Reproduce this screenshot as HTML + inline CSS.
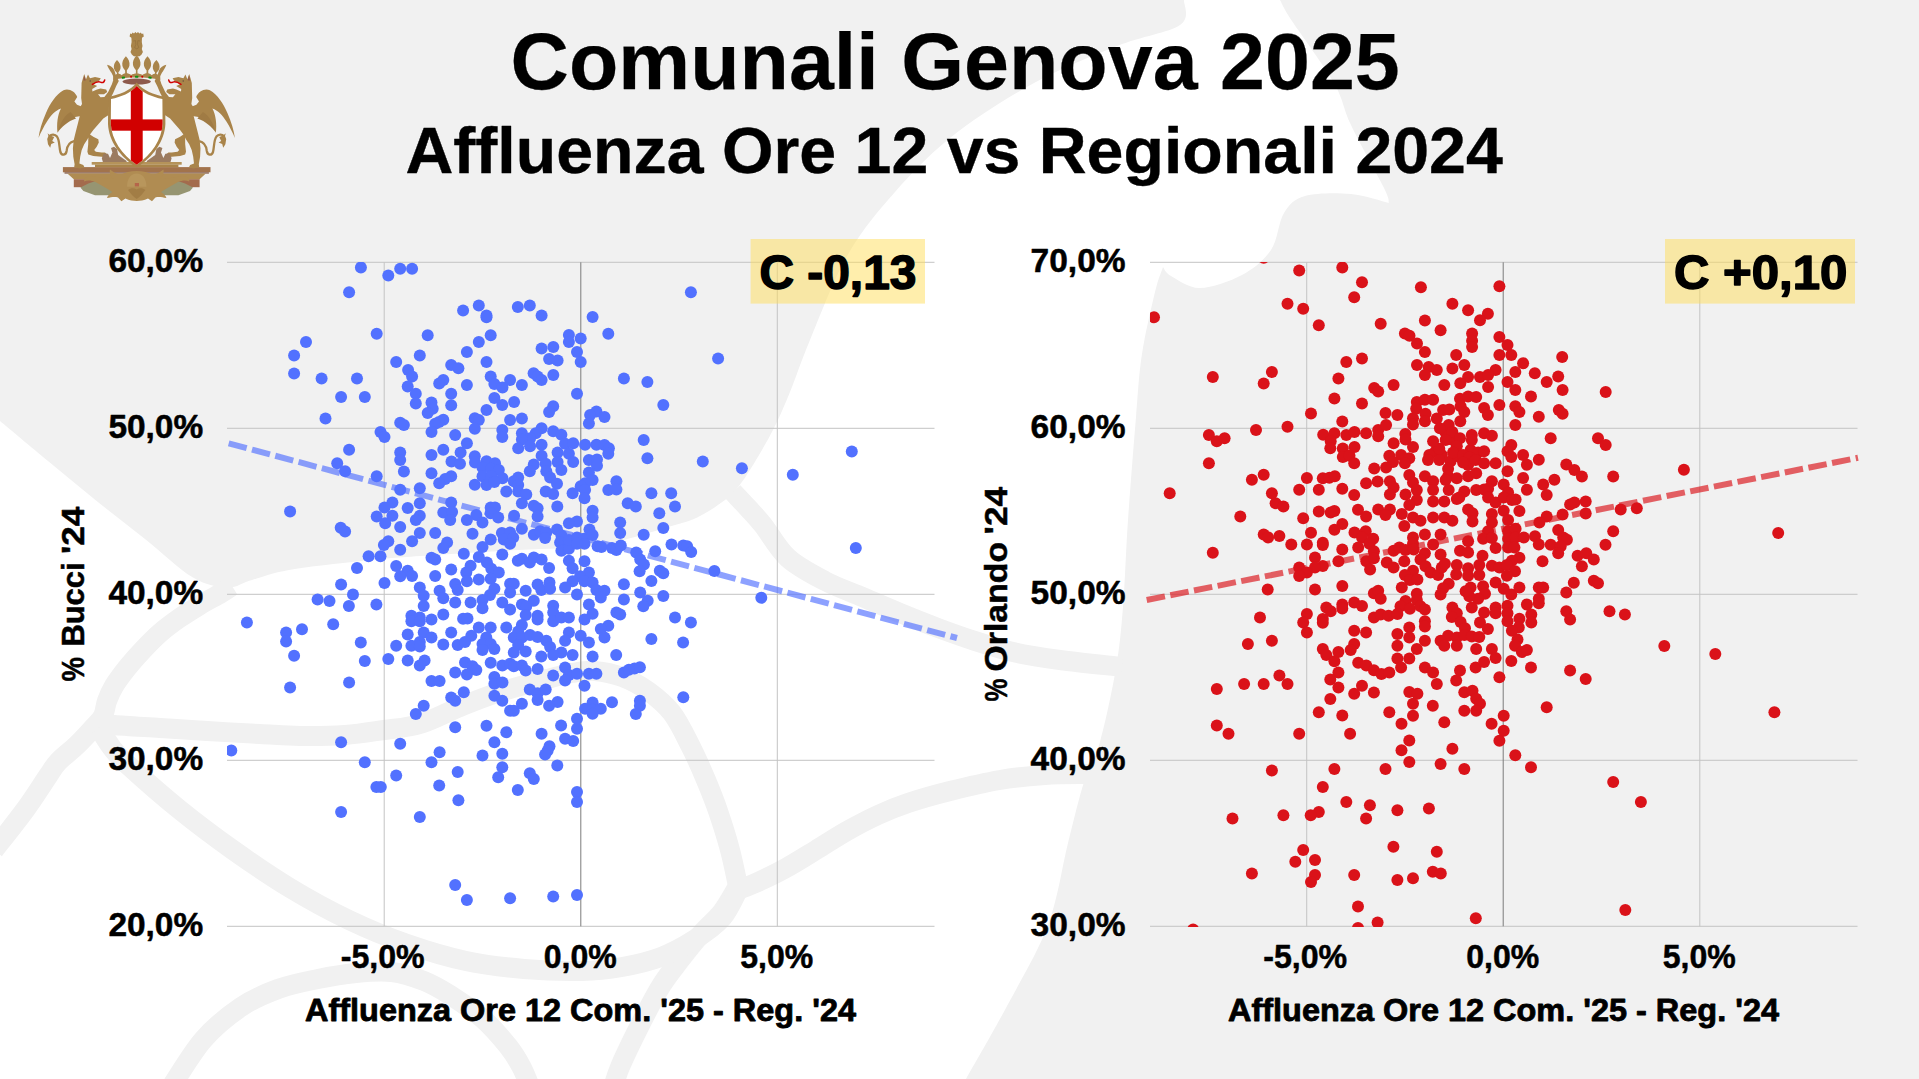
<!DOCTYPE html>
<html lang="it"><head><meta charset="utf-8"><title>Comunali Genova 2025 - Affluenza Ore 12 vs Regionali 2024</title>
<style>
html,body{margin:0;padding:0;background:#fff;overflow:hidden}
body{width:1919px;height:1079px;font-family:"Liberation Sans",sans-serif}
svg{display:block}
svg text{font-family:"Liberation Sans",sans-serif;font-weight:bold;fill:#000}
</style></head><body>
<svg width="1919" height="1079" viewBox="0 0 1919 1079">
<defs>
<clipPath id="clipL"><rect x="227" y="262" width="707.5" height="665"/></clipPath>
<clipPath id="clipR"><rect x="1150" y="262" width="707.5" height="665"/></clipPath>
</defs>

<rect width="1919" height="1079" fill="#ffffff"/>
<g fill="#f1f1f1" stroke="none">
<path d="M0,0 L1184,0 L1184.0,0.0 C1183.3,4.2 1191.2,17.3 1180.0,25.0 C1168.8,32.7 1141.3,36.3 1117.0,46.0 C1092.7,55.7 1061.8,67.7 1034.0,83.0 C1006.2,98.3 974.3,118.5 950.0,138.0 C925.7,157.5 905.3,180.0 888.0,200.0 C870.7,220.0 859.0,234.7 846.0,258.0 C833.0,281.3 819.3,317.7 810.0,340.0 C800.7,362.3 796.0,377.3 790.0,392.0 C784.0,406.7 779.7,416.7 774.0,428.0 C768.3,439.3 761.8,450.3 756.0,460.0 C750.2,469.7 744.2,479.3 739.0,486.0 C733.8,492.7 731.5,495.0 725.0,500.0 C718.5,505.0 708.3,511.8 700.0,516.0 C691.7,520.2 691.7,520.2 675.0,525.0 C658.3,529.8 626.2,540.8 600.0,545.0 C573.8,549.2 548.0,548.2 518.0,550.0 C488.0,551.8 446.2,554.2 420.0,556.0 C393.8,557.8 382.8,558.7 361.0,561.0 C339.2,563.3 307.2,566.8 289.0,570.0 C270.8,573.2 262.3,577.1 252.0,580.0 C241.7,582.9 236.8,587.9 227.0,587.5 C217.2,587.1 206.7,585.7 193.0,577.6 C179.3,569.5 161.2,551.9 145.0,539.0 C128.8,526.1 112.2,513.5 96.0,500.5 C79.8,487.5 64.0,474.2 48.0,461.0 C32.0,447.8 8.0,427.7 0.0,421.0 Z"/>
<path d="M1280.0,0.0 C1282.0,3.5 1283.0,7.2 1292.0,21.0 C1301.0,34.8 1324.2,65.7 1334.0,83.0 C1343.8,100.3 1342.7,107.5 1351.0,125.0 C1359.3,142.5 1377.7,175.0 1384.0,188.0 C1390.3,201.0 1388.2,200.5 1389.0,203.0 L1389.0,203.0 C1382.7,201.5 1365.0,195.2 1351.0,194.0 C1337.0,192.8 1316.2,192.8 1305.0,196.0 C1293.8,199.2 1289.7,204.0 1284.0,213.0 C1278.3,222.0 1278.0,239.7 1271.0,250.0 C1264.0,260.3 1253.8,268.7 1242.0,275.0 C1230.2,281.3 1211.8,287.8 1200.0,288.0 C1188.2,288.2 1177.2,279.5 1171.0,276.0 C1164.8,272.5 1164.3,268.5 1163.0,267.0 L1163.0,267.0 C1161.7,271.2 1158.5,277.5 1155.0,292.0 C1151.5,306.5 1145.2,333.2 1142.0,354.0 C1138.8,374.8 1138.3,389.3 1136.0,417.0 C1133.7,444.7 1130.2,488.3 1128.0,520.0 C1125.8,551.7 1125.0,582.3 1123.0,607.0 C1121.0,631.7 1119.8,645.5 1116.0,668.0 C1112.2,690.5 1105.3,723.0 1100.0,742.0 C1094.7,761.0 1089.3,765.2 1084.0,782.0 C1078.7,798.8 1074.0,819.2 1068.0,843.0 C1062.0,866.8 1058.2,897.8 1048.0,925.0 C1037.8,952.2 1020.7,980.3 1007.0,1006.0 C993.3,1031.7 972.8,1066.8 966.0,1079.0 L1919,1079 L1919,0 Z"/>
</g>
<g fill="none" stroke="#f1f1f1" stroke-width="20" stroke-linecap="butt" stroke-linejoin="round">
<path d="M232.0,586.0 C230.1,587.2 226.0,590.2 220.7,593.4 C215.4,596.6 206.9,600.8 200.0,605.0 C193.1,609.2 185.7,613.7 179.0,618.4 C172.3,623.1 166.2,627.6 160.0,633.0 C153.8,638.4 147.5,645.0 142.0,650.8 C136.5,656.6 131.7,662.1 127.0,668.0 C122.3,673.9 117.3,680.5 114.0,686.0 C110.7,691.5 108.8,696.0 107.0,701.0 C105.2,706.0 105.2,711.7 103.0,716.0 C100.8,720.3 98.3,722.2 94.0,727.0 C89.7,731.8 83.0,739.2 77.0,745.0 C71.0,750.8 62.8,756.8 58.0,762.0 C53.2,767.2 53.5,768.0 48.0,776.0 C42.5,784.0 34.0,797.7 25.0,810.0 C16.0,822.3 -0.8,843.3 -6.0,850.0"/>
<path d="M100.0,722.0 C102.3,722.5 104.0,724.0 114.0,725.0 C124.0,726.0 144.5,727.0 160.0,728.0 C175.5,729.0 190.3,730.0 207.0,731.0 C223.7,732.0 244.5,733.2 260.0,734.0 C275.5,734.8 285.8,735.8 300.0,736.0 C314.2,736.2 331.0,736.0 345.0,735.0 C359.0,734.0 371.5,731.8 384.0,730.0 C396.5,728.2 407.3,727.8 420.0,724.0 C432.7,720.2 447.2,712.2 460.0,707.0 C472.8,701.8 482.5,697.7 497.0,693.0 C511.5,688.3 534.5,682.3 547.0,679.0 C559.5,675.7 564.0,674.3 572.0,673.0 C580.0,671.7 586.7,670.3 595.0,671.0 C603.3,671.7 613.2,673.7 622.0,677.0 C630.8,680.3 639.7,685.0 648.0,691.0 C656.3,697.0 664.8,703.7 672.0,713.0 C679.2,722.3 685.3,735.8 691.0,747.0 C696.7,758.2 701.5,769.3 706.0,780.0 C710.5,790.7 714.0,799.3 718.0,811.0 C722.0,822.7 726.7,837.5 730.0,850.0 C733.3,862.5 736.7,880.0 738.0,886.0"/>
<path d="M738.0,886.0 C735.3,890.3 728.0,904.2 722.0,912.0 C716.0,919.8 709.0,925.0 702.0,933.0 C695.0,941.0 686.8,951.2 680.0,960.0 C673.2,968.8 667.7,975.2 661.0,986.0 C654.3,996.8 646.8,1011.5 640.0,1025.0 C633.2,1038.5 624.7,1055.8 620.0,1067.0 C615.3,1078.2 613.3,1087.8 612.0,1092.0"/>
<path d="M99.0,728.0 C101.2,731.3 107.2,741.8 112.0,748.0 C116.8,754.2 116.7,754.7 128.0,765.0 C139.3,775.3 162.5,795.8 180.0,810.0 C197.5,824.2 214.7,837.0 233.0,850.0 C251.3,863.0 270.7,876.3 290.0,888.0 C309.3,899.7 329.5,910.7 349.0,920.0 C368.5,929.3 387.5,937.2 407.0,944.0 C426.5,950.8 446.5,956.8 466.0,961.0 C485.5,965.2 504.7,967.3 524.0,969.0 C543.3,970.7 565.7,971.3 582.0,971.0 C598.3,970.7 608.8,969.3 622.0,967.0 C635.2,964.7 649.0,961.5 661.0,957.0 C673.0,952.5 683.8,946.5 694.0,940.0 C704.2,933.5 714.7,926.3 722.0,918.0 C729.3,909.7 735.3,894.7 738.0,890.0"/>
<path d="M738.0,890.0 C741.7,888.5 752.0,884.7 760.0,881.0 C768.0,877.3 776.7,873.2 786.0,868.0 C795.3,862.8 805.8,856.2 816.0,850.0 C826.2,843.8 836.7,836.8 847.0,831.0 C857.3,825.2 867.8,819.7 878.0,815.0 C888.2,810.3 896.0,807.0 908.0,803.0 C920.0,799.0 934.7,794.8 950.0,791.0 C965.3,787.2 984.2,782.7 1000.0,780.0 C1015.8,777.3 1029.7,776.0 1045.0,775.0 C1060.3,774.0 1084.2,774.2 1092.0,774.0"/>
<path d="M733.0,492.0 C735.5,494.7 743.0,502.5 748.0,508.0 C753.0,513.5 756.3,516.7 763.0,525.0 C769.7,533.3 777.7,548.7 788.0,558.0 C798.3,567.3 813.0,574.7 825.0,581.0 C837.0,587.3 847.5,590.7 860.0,596.0 C872.5,601.3 887.0,607.7 900.0,613.0 C913.0,618.3 925.5,623.3 938.0,628.0 C950.5,632.7 962.5,637.0 975.0,641.0 C987.5,645.0 998.8,648.8 1013.0,652.0 C1027.2,655.2 1041.8,657.5 1060.0,660.0 C1078.2,662.5 1111.7,665.8 1122.0,667.0"/>
<path d="M168.0,1092.0 C173.8,1083.3 190.8,1054.2 203.0,1040.0 C215.2,1025.8 228.5,1015.5 241.0,1007.0 C253.5,998.5 265.2,993.7 278.0,989.0 C290.8,984.3 305.0,981.7 318.0,979.0 C331.0,976.3 343.7,974.2 356.0,973.0 C368.3,971.8 380.7,970.7 392.0,972.0 C403.3,973.3 414.3,977.2 424.0,981.0 C433.7,984.8 440.3,988.8 450.0,995.0 C459.7,1001.2 472.3,1009.5 482.0,1018.0 C491.7,1026.5 501.3,1037.7 508.0,1046.0 C514.7,1054.3 518.0,1060.3 522.0,1068.0 C526.0,1075.7 530.3,1088.0 532.0,1092.0"/>
</g>
<g id="crest">
<defs>
<g id="griffin">
<!-- wing feathers -->
<path d="M77.2,97 C75,91 68.5,88 63.5,90.2 C56,94.5 50,103.5 46,113 C42,122 39.3,131 38.5,138 C41,132 43.8,126.5 47,121.5 C51,115 55.5,110.5 61,108.5 C57.5,115 56.5,124 57.5,132.8 C60.5,126 65.5,120.5 72,117.5 L81,116 L81.5,106.5 L77,104.8 L74.4,101.6 Z" fill="#a9844a"/>
<path d="M70.5,112 C64.5,115.5 60,123 57.6,132.6 C62,126.5 67.5,121.5 76,118.5 Z" fill="#a07b44"/>
<!-- body -->
<path d="M84.2,74 L86,79.2 L88,74.4 L90,78.2 L95,77 L100.8,78.2 L99.4,80.6 L93.4,84.2 L97.2,86 L92.2,89 L92.4,91.5 L97,89.6 L100.5,88.4 L106.2,89.5 L107.2,92 L104,94.2 L98,94.2 L100.5,97.2 L104.4,97 L108.2,92 L112,84 L113.6,79 L117,77.6 L118.8,81 L116.2,86 L113.2,93 L109.6,100 L108.8,108 L108.6,115 L103.3,118.5 L99.2,123.3 L93.3,130 L90,134.6 L93.3,136.7 L98.3,139.2 L98.8,142.5 L96.7,146.7 L94.2,150 L95.8,151.7 L101.7,152.4 L105,152.4 L107.9,155 L106.7,157.6 L101.7,156.8 L93.3,156 L88.3,154.4 L87.4,151.7 L88.2,144.2 L88.3,137.5 L87.5,139.2 L84.2,144.2 L81.7,150 L80.2,156.7 L79.4,163.6 L83.3,165 L84.4,167.2 L80,168.4 L74.2,167.3 L74.6,164.2 L73.3,156.7 L72.9,148.3 L73.75,140 L75.4,133.3 L77.5,125 L80,115 L78.5,110 L82,104 L81.2,98 L81.4,91 L81.6,83 L83,78 Z" fill="#a9844a"/>
<!-- tail -->
<path d="M74.2,141.2 C70,142 67.2,146 66.6,151 C66,155.2 61.8,156 60.4,152 C59,146 59.6,140 57,136.6 C55,134.2 51.5,134.2 49.4,136" fill="none" stroke="#a9844a" stroke-width="2.3"/>
<path d="M47.6,133.2 L50.2,135.6 L54.2,137 L52.2,141 L54.8,142.6 L51.2,144 L50.2,147.8 L48,144.2 L47.2,139 L48.4,136 Z" fill="#a9844a"/>
<!-- ear inner -->
<path d="M84.4,75.2 L85.6,80.4 L83.4,80.6 Z" fill="#94584a"/>
<!-- tongue -->
<path d="M92.4,84.4 C95,82.6 98,81.3 100.4,82.1 C102.4,83 104,82.8 104.7,80" fill="none" stroke="#d10000" stroke-width="1.5" stroke-linecap="round"/>
<circle cx="90.2" cy="81" r="0.7" fill="#5a4a3a"/>
<!-- scroll next to shield -->
<path d="M101.8,158.2 L103.8,153.4 L108,153.8 L110,158 L112.4,152.4 L111,148 L114,146.8 L117,149 L118.2,155 L126.6,161 L126.6,162.6 L103,162.6 Z" fill="#9b7b60"/>
<!-- green-gray figure under platform -->
<path d="M80.4,187.6 L88.3,183.4 L100.8,179.2 L110,186.7 L118.4,191.8 L111.8,195.2 L95,195.2 L83.4,190.9 Z" fill="#969572"/>
</g>
</defs>
<!-- base -->
<rect x="62.9" y="167.1" width="147.6" height="5.2" fill="#a2734c"/>
<rect x="64.5" y="172.2" width="144.4" height="1.5" fill="#8f6a58"/>
<path d="M67.4,173.6 L205.8,173.6 L199.6,179.3 L73.8,179.3 Z" fill="#b08c52"/>
<rect x="73.8" y="179.2" width="125.8" height="8" fill="#a36b4d"/>
<use href="#griffin"/>
<use href="#griffin" transform="translate(273.4,0) scale(-1,1)"/>
<!-- plinth -->
<rect x="91.7" y="162" width="90" height="2.7" fill="#b5935a"/>
<rect x="95" y="164.6" width="83.4" height="2.6" fill="#a9844a"/>
<!-- central ornament -->
<path d="M110,169.4 C113,172 117,174 121,175 C125,172 130,171 136.7,171 C143.4,171 148.4,172 152.4,175 C156.4,174 160.4,172 163.4,169.4 C164.4,173 162.4,177 159.4,179 C166,179 173,178 180,176.6 C186,175.6 190,177.6 189.2,181.4 C186,180 182,180.4 178,182 C172,185 166,189 161,192 C164,194 166,196 166.4,198 C162,197 158.4,196.4 155.4,197.4 L152,201.2 L148,198.6 C144,200.4 140,201 136.7,201 C133.4,201 129.4,200.4 125.4,198.6 L121.4,201.2 L118,197.4 C115,196.4 111.4,197 107,198 C107.4,196 109.4,194 112.4,192 C107.4,189 101.4,185 95.4,182 C91.4,180.4 87.4,180 84.2,181.4 C83.4,177.6 87.4,175.6 93.4,176.6 C100.4,178 107.4,179 114,179 C111,177 109,173 110,169.4 Z" fill="#b08c52"/>
<path d="M127,186.8 C127,178.8 131,173.6 136.7,173.6 C142.4,173.6 146.4,178.8 146.4,186.8 Z" fill="#b8965c"/>
<rect x="134.8" y="183" width="4.2" height="3.4" fill="#b5654a"/>
<path d="M128,190 C131,187.6 134,187.6 136.7,189.6 C139.4,187.6 142.4,187.6 145.4,190 C142.4,194 140,197 136.7,199 C133.4,197 131,194 128,190 Z" fill="#a27d45"/>
<!-- janus head -->
<path d="M129.6,36.6 L130.2,33.4 L131.6,34 L132.6,32.4 L134,33.6 L135.4,32 L136.7,33.2 L138,32 L139.4,33.6 L140.8,32.4 L141.8,34 L143.2,33.4 L143.8,36.6 L142,37.8 L141.8,42 L142.5,46 L141.8,49 L142.9,52 L141.6,54.6 L139.6,56.2 L136.7,56.6 L133.8,56.2 L131.8,54.6 L130.5,52 L131.6,49 L130.9,46 L131.6,42 L131.4,37.8 Z" fill="#a9844a"/>
<path d="M133.4,41 L135.6,40.6 L135.8,44.6 L134.6,47.6 L136.7,48.8 L138.8,47.6 L137.6,44.6 L137.8,40.6 L140,41" fill="none" stroke="#92703c" stroke-width="0.7"/>
<!-- crown leaves -->
<g fill="#a9844a">
<path d="M136.7,55.5 C139.6,58 141,61.5 140.4,65 C139.8,67.4 138.4,69 137.5,70 L137.5,74 L135.9,74 L135.9,70 C135,69 133.6,67.4 133,65 C132.4,61.5 133.8,58 136.7,55.5 Z"/>
<path id="lf1" d="M125.9,56.3 C128.8,59 130,62.4 129.4,65.8 C128.8,68 127.6,69.4 126.8,70.4 L127,74.5 L125.2,74.5 L125.1,70.4 C124.2,69.4 122.9,68 122.4,65.8 C121.8,62.4 123,59 125.9,56.3 Z"/>
<path id="lf2" d="M117,60 C119.8,62.4 121,65.4 120.5,68.4 C120,70.4 119,71.6 118.3,72.4 L119.3,76 L117.6,76 L116.7,72.6 C115.8,71.8 114.6,70.6 114,68.6 C113.4,65.6 114.4,62.4 117,60 Z"/>
<path id="lf3" d="M107.1,64.8 C110.4,65.4 113,67.4 114.4,70.4 C115.2,72.4 115.6,74.4 115.8,76.2 L113.6,77.4 C113,75.4 112,73.4 110.4,71.2 C109,69.2 107.8,67 107.1,64.8 Z"/>
<use href="#lf1" transform="translate(273.4,0) scale(-1,1)"/>
<use href="#lf2" transform="translate(273.4,0) scale(-1,1)"/>
<use href="#lf3" transform="translate(273.4,0) scale(-1,1)"/>
<!-- arches + band -->
<path d="M113.2,76.6 C116,73.4 119,73 121.8,75.2 C124,72.6 128,72.6 131.2,75 C133.4,73 140,73 142.2,75 C145.4,72.6 149.4,72.6 151.6,75.2 C154.4,73 157.4,73.4 160.2,76.6 L160.4,80 C153,78.2 145,77.6 136.7,77.6 C128.4,77.6 120.4,78.2 113,80 Z"/>
</g>
<ellipse cx="136.7" cy="81.6" rx="14.2" ry="3" fill="#8e5a4c"/>
<g>
<rect x="121.8" y="76.6" width="3.2" height="2" rx="0.6" fill="#0f8f12" transform="rotate(-8 123.4 77.6)"/>
<rect x="135" y="75.7" width="3.4" height="2" rx="0.6" fill="#0f8f12"/>
<rect x="148.4" y="76.6" width="3.2" height="2" rx="0.6" fill="#0f8f12" transform="rotate(8 150 77.6)"/>
<circle cx="131.1" cy="76.8" r="1.05" fill="#d10000"/>
<circle cx="142.3" cy="76.8" r="1.05" fill="#d10000"/>
</g>
<!-- shield -->
<path d="M108.2,96.7 C120,94.6 130,90.6 136.7,82.4 C143.4,90.6 153.4,94.6 165.2,96.7 L165.4,124 C164.6,141 153.4,157 136.7,167.4 C120,157 108.8,141 108,124 Z" fill="#a9844a"/>
<clipPath id="shc"><path d="M111,99 C121.4,97 130.4,93 136.7,86 C143,93 152,97 162.4,99 L162.6,124 C161.8,139.6 151.6,154.6 136.7,164.8 C121.8,154.6 111.6,139.6 110.8,124 Z"/></clipPath>
<g clip-path="url(#shc)">
<rect x="105" y="80" width="64" height="90" fill="#ffffff"/>
<rect x="130.8" y="80" width="11.9" height="90" fill="#d10000"/>
<rect x="105" y="119.4" width="64" height="11.3" fill="#d10000"/>
</g>
</g>

<text x="510.6" y="88.8" font-size="79" text-anchor="start" textLength="889.2" lengthAdjust="spacingAndGlyphs" stroke="#000" stroke-width="0.25" stroke-linejoin="round" >Comunali Genova 2025</text>
<text x="405.4" y="172.5" font-size="65.2" text-anchor="start" textLength="1097.4" lengthAdjust="spacingAndGlyphs" stroke="#000" stroke-width="0.4" stroke-linejoin="round" >Affluenza Ore 12 vs Regionali 2024</text>
<g id="chartL">
<rect x="227" y="261.80" width="707.5" height="1" fill="#c4c4c4"/>
<rect x="227" y="427.80" width="707.5" height="1" fill="#c4c4c4"/>
<rect x="227" y="593.80" width="707.5" height="1" fill="#c4c4c4"/>
<rect x="227" y="759.80" width="707.5" height="1" fill="#c4c4c4"/>
<rect x="227" y="925.80" width="707.5" height="1" fill="#c4c4c4"/>
<rect x="383.70" y="262.3" width="1" height="664.0" fill="#c4c4c4"/>
<rect x="580.30" y="262.3" width="1" height="664.0" fill="#7c7c7c"/>
<rect x="776.80" y="262.3" width="1" height="664.0" fill="#c4c4c4"/>
</g>
<g id="chartR">
<rect x="1150" y="261.80" width="707.5" height="1" fill="#c4c4c4"/>
<rect x="1150" y="427.80" width="707.5" height="1" fill="#c4c4c4"/>
<rect x="1150" y="593.80" width="707.5" height="1" fill="#c4c4c4"/>
<rect x="1150" y="759.80" width="707.5" height="1" fill="#c4c4c4"/>
<rect x="1150" y="925.80" width="707.5" height="1" fill="#c4c4c4"/>
<rect x="1306.20" y="262.3" width="1" height="664.0" fill="#c4c4c4"/>
<rect x="1502.70" y="262.3" width="1" height="664.0" fill="#7c7c7c"/>
<rect x="1699.30" y="262.3" width="1" height="664.0" fill="#c4c4c4"/>
</g>
<text x="108.4" y="272.2" font-size="32.3" text-anchor="start" textLength="94.8" lengthAdjust="spacingAndGlyphs" stroke="#000" stroke-width="0.5" stroke-linejoin="round" >60,0%</text>
<text x="108.4" y="438.2" font-size="32.3" text-anchor="start" textLength="94.8" lengthAdjust="spacingAndGlyphs" stroke="#000" stroke-width="0.5" stroke-linejoin="round" >50,0%</text>
<text x="108.4" y="604.1999999999999" font-size="32.3" text-anchor="start" textLength="94.8" lengthAdjust="spacingAndGlyphs" stroke="#000" stroke-width="0.5" stroke-linejoin="round" >40,0%</text>
<text x="108.4" y="770.1999999999999" font-size="32.3" text-anchor="start" textLength="94.8" lengthAdjust="spacingAndGlyphs" stroke="#000" stroke-width="0.5" stroke-linejoin="round" >30,0%</text>
<text x="108.4" y="936.1999999999999" font-size="32.3" text-anchor="start" textLength="94.8" lengthAdjust="spacingAndGlyphs" stroke="#000" stroke-width="0.5" stroke-linejoin="round" >20,0%</text>
<text x="1030.6" y="272.2" font-size="32.3" text-anchor="start" textLength="95" lengthAdjust="spacingAndGlyphs" stroke="#000" stroke-width="0.5" stroke-linejoin="round" >70,0%</text>
<text x="1030.6" y="438.2" font-size="32.3" text-anchor="start" textLength="95" lengthAdjust="spacingAndGlyphs" stroke="#000" stroke-width="0.5" stroke-linejoin="round" >60,0%</text>
<text x="1030.6" y="604.1999999999999" font-size="32.3" text-anchor="start" textLength="95" lengthAdjust="spacingAndGlyphs" stroke="#000" stroke-width="0.5" stroke-linejoin="round" >50,0%</text>
<text x="1030.6" y="770.1999999999999" font-size="32.3" text-anchor="start" textLength="95" lengthAdjust="spacingAndGlyphs" stroke="#000" stroke-width="0.5" stroke-linejoin="round" >40,0%</text>
<text x="1030.6" y="936.1999999999999" font-size="32.3" text-anchor="start" textLength="95" lengthAdjust="spacingAndGlyphs" stroke="#000" stroke-width="0.5" stroke-linejoin="round" >30,0%</text>
<text x="382.7" y="968.0" font-size="32.3" text-anchor="middle" textLength="84" lengthAdjust="spacingAndGlyphs" stroke="#000" stroke-width="0.5" stroke-linejoin="round" >-5,0%</text>
<text x="580.3" y="968.0" font-size="32.3" text-anchor="middle" textLength="73" lengthAdjust="spacingAndGlyphs" stroke="#000" stroke-width="0.5" stroke-linejoin="round" >0,0%</text>
<text x="776.8" y="968.0" font-size="32.3" text-anchor="middle" textLength="73" lengthAdjust="spacingAndGlyphs" stroke="#000" stroke-width="0.5" stroke-linejoin="round" >5,0%</text>
<text x="1305.2" y="968.0" font-size="32.3" text-anchor="middle" textLength="84" lengthAdjust="spacingAndGlyphs" stroke="#000" stroke-width="0.5" stroke-linejoin="round" >-5,0%</text>
<text x="1502.7" y="968.0" font-size="32.3" text-anchor="middle" textLength="73" lengthAdjust="spacingAndGlyphs" stroke="#000" stroke-width="0.5" stroke-linejoin="round" >0,0%</text>
<text x="1699.3" y="968.0" font-size="32.3" text-anchor="middle" textLength="73" lengthAdjust="spacingAndGlyphs" stroke="#000" stroke-width="0.5" stroke-linejoin="round" >5,0%</text>
<text x="305" y="1020.6" font-size="30.5" text-anchor="start" textLength="551" lengthAdjust="spacingAndGlyphs" stroke="#000" stroke-width="0.8" stroke-linejoin="round" >Affluenza Ore 12 Com. &#39;25 - Reg. &#39;24</text>
<text x="1228" y="1020.6" font-size="30.5" text-anchor="start" textLength="551" lengthAdjust="spacingAndGlyphs" stroke="#000" stroke-width="0.8" stroke-linejoin="round" >Affluenza Ore 12 Com. &#39;25 - Reg. &#39;24</text>
<g transform="translate(83.6,681.4) rotate(-90)"><text x="0" y="0" font-size="31" text-anchor="start" textLength="24.6" lengthAdjust="spacingAndGlyphs" stroke="#000" stroke-width="0.5" stroke-linejoin="round" >%</text></g><g transform="translate(83.6,646.6) rotate(-90)"><text x="0" y="0" font-size="31" text-anchor="start" textLength="84.2" lengthAdjust="spacingAndGlyphs" stroke="#000" stroke-width="0.5" stroke-linejoin="round" >Bucci</text></g><g transform="translate(83.6,554.0) rotate(-90)"><text x="0" y="0" font-size="31" text-anchor="start" textLength="47.4" lengthAdjust="spacingAndGlyphs" stroke="#000" stroke-width="0.5" stroke-linejoin="round" >&#39;24</text></g>
<g transform="translate(1006.6,701.6) rotate(-90)"><text x="0" y="0" font-size="31" text-anchor="start" textLength="23.0" lengthAdjust="spacingAndGlyphs" stroke="#000" stroke-width="0.5" stroke-linejoin="round" >%</text></g><g transform="translate(1006.6,671.4) rotate(-90)"><text x="0" y="0" font-size="31" text-anchor="start" textLength="129.4" lengthAdjust="spacingAndGlyphs" stroke="#000" stroke-width="0.5" stroke-linejoin="round" >Orlando</text></g><g transform="translate(1006.6,534.4) rotate(-90)"><text x="0" y="0" font-size="31" text-anchor="start" textLength="47.6" lengthAdjust="spacingAndGlyphs" stroke="#000" stroke-width="0.5" stroke-linejoin="round" >&#39;24</text></g>
<line x1="228.7" y1="443.3" x2="957" y2="638" stroke="#5271ff" stroke-opacity="0.66" stroke-width="6" stroke-dasharray="18.6 5.5"/>
<line x1="1146.7" y1="600" x2="1858" y2="457.8" stroke="#da1219" stroke-opacity="0.66" stroke-width="6" stroke-dasharray="18.6 5.5"/>
<g clip-path="url(#clipL)" fill="#5271ff">
<circle cx="360.9" cy="267.5" r="6"/><circle cx="388.3" cy="275.6" r="6"/><circle cx="400.2" cy="268.8" r="6"/><circle cx="412.1" cy="268.8" r="6"/><circle cx="349.1" cy="292.2" r="6"/><circle cx="376.7" cy="333.8" r="6"/><circle cx="427.7" cy="335.3" r="6"/><circle cx="306.0" cy="342.0" r="6"/><circle cx="294.1" cy="355.4" r="6"/><circle cx="419.8" cy="355.4" r="6"/><circle cx="396.2" cy="362.0" r="6"/><circle cx="451.2" cy="365.1" r="6"/><circle cx="458.4" cy="368.2" r="6"/><circle cx="408.1" cy="369.9" r="6"/><circle cx="294.1" cy="373.6" r="6"/><circle cx="412.1" cy="376.6" r="6"/><circle cx="321.6" cy="378.6" r="6"/><circle cx="357.0" cy="378.6" r="6"/><circle cx="443.3" cy="380.1" r="6"/><circle cx="439.2" cy="383.6" r="6"/><circle cx="407.7" cy="386.4" r="6"/><circle cx="690.9" cy="292.2" r="6"/><circle cx="478.8" cy="305.4" r="6"/><circle cx="463.1" cy="310.4" r="6"/><circle cx="517.8" cy="306.9" r="6"/><circle cx="529.8" cy="305.4" r="6"/><circle cx="486.5" cy="315.4" r="6"/><circle cx="486.5" cy="317.2" r="6"/><circle cx="541.6" cy="315.4" r="6"/><circle cx="592.6" cy="317.1" r="6"/><circle cx="490.7" cy="335.3" r="6"/><circle cx="568.9" cy="335.1" r="6"/><circle cx="608.3" cy="333.8" r="6"/><circle cx="580.7" cy="338.6" r="6"/><circle cx="478.8" cy="342.0" r="6"/><circle cx="568.9" cy="342.0" r="6"/><circle cx="541.6" cy="348.6" r="6"/><circle cx="553.3" cy="347.0" r="6"/><circle cx="466.9" cy="352.0" r="6"/><circle cx="577.0" cy="352.0" r="6"/><circle cx="549.1" cy="358.9" r="6"/><circle cx="557.6" cy="360.4" r="6"/><circle cx="486.5" cy="362.0" r="6"/><circle cx="580.7" cy="362.0" r="6"/><circle cx="490.7" cy="376.6" r="6"/><circle cx="533.6" cy="373.2" r="6"/><circle cx="537.6" cy="376.6" r="6"/><circle cx="541.6" cy="380.1" r="6"/><circle cx="553.3" cy="375.1" r="6"/><circle cx="510.1" cy="380.1" r="6"/><circle cx="623.9" cy="378.6" r="6"/><circle cx="647.4" cy="382.0" r="6"/><circle cx="466.9" cy="385.1" r="6"/><circle cx="494.4" cy="383.9" r="6"/><circle cx="502.5" cy="387.6" r="6"/><circle cx="521.9" cy="385.1" r="6"/><circle cx="718.1" cy="358.6" r="6"/><circle cx="341.1" cy="396.9" r="6"/><circle cx="364.8" cy="396.9" r="6"/><circle cx="415.8" cy="393.8" r="6"/><circle cx="451.2" cy="393.8" r="6"/><circle cx="415.8" cy="403.5" r="6"/><circle cx="431.5" cy="402.5" r="6"/><circle cx="451.2" cy="405.3" r="6"/><circle cx="432.7" cy="408.8" r="6"/><circle cx="427.7" cy="413.1" r="6"/><circle cx="325.5" cy="418.4" r="6"/><circle cx="443.3" cy="419.8" r="6"/><circle cx="439.0" cy="421.9" r="6"/><circle cx="435.2" cy="423.8" r="6"/><circle cx="400.2" cy="422.8" r="6"/><circle cx="403.9" cy="425.0" r="6"/><circle cx="380.5" cy="431.9" r="6"/><circle cx="384.5" cy="436.9" r="6"/><circle cx="431.5" cy="431.9" r="6"/><circle cx="455.2" cy="435.0" r="6"/><circle cx="349.1" cy="449.8" r="6"/><circle cx="400.2" cy="452.6" r="6"/><circle cx="400.2" cy="460.1" r="6"/><circle cx="443.3" cy="449.8" r="6"/><circle cx="431.5" cy="455.1" r="6"/><circle cx="451.5" cy="461.6" r="6"/><circle cx="337.2" cy="463.2" r="6"/><circle cx="345.1" cy="471.3" r="6"/><circle cx="403.9" cy="471.6" r="6"/><circle cx="431.5" cy="473.2" r="6"/><circle cx="376.7" cy="476.3" r="6"/><circle cx="451.2" cy="476.3" r="6"/><circle cx="445.2" cy="479.1" r="6"/><circle cx="439.2" cy="483.2" r="6"/><circle cx="400.2" cy="489.8" r="6"/><circle cx="419.8" cy="488.2" r="6"/><circle cx="392.4" cy="502.6" r="6"/><circle cx="419.8" cy="503.2" r="6"/><circle cx="451.2" cy="502.6" r="6"/><circle cx="384.5" cy="507.6" r="6"/><circle cx="407.7" cy="507.9" r="6"/><circle cx="290.1" cy="511.4" r="6"/><circle cx="443.3" cy="512.6" r="6"/><circle cx="452.1" cy="512.0" r="6"/><circle cx="376.7" cy="516.4" r="6"/><circle cx="392.4" cy="515.8" r="6"/><circle cx="419.8" cy="515.8" r="6"/><circle cx="415.8" cy="520.1" r="6"/><circle cx="450.2" cy="520.1" r="6"/><circle cx="385.2" cy="523.3" r="6"/><circle cx="577.0" cy="393.8" r="6"/><circle cx="494.4" cy="398.1" r="6"/><circle cx="502.3" cy="405.0" r="6"/><circle cx="514.1" cy="401.9" r="6"/><circle cx="663.3" cy="405.0" r="6"/><circle cx="486.5" cy="410.0" r="6"/><circle cx="553.2" cy="406.3" r="6"/><circle cx="549.1" cy="411.9" r="6"/><circle cx="596.4" cy="411.5" r="6"/><circle cx="590.1" cy="415.0" r="6"/><circle cx="604.5" cy="416.9" r="6"/><circle cx="588.9" cy="423.5" r="6"/><circle cx="474.8" cy="418.2" r="6"/><circle cx="478.8" cy="420.0" r="6"/><circle cx="510.1" cy="420.0" r="6"/><circle cx="521.9" cy="418.5" r="6"/><circle cx="474.8" cy="428.8" r="6"/><circle cx="502.3" cy="430.0" r="6"/><circle cx="502.3" cy="436.9" r="6"/><circle cx="541.6" cy="428.2" r="6"/><circle cx="535.7" cy="433.2" r="6"/><circle cx="521.9" cy="433.2" r="6"/><circle cx="530.1" cy="438.2" r="6"/><circle cx="521.9" cy="439.4" r="6"/><circle cx="553.2" cy="431.3" r="6"/><circle cx="561.4" cy="434.8" r="6"/><circle cx="466.9" cy="443.2" r="6"/><circle cx="541.6" cy="444.8" r="6"/><circle cx="518.2" cy="448.2" r="6"/><circle cx="530.1" cy="446.3" r="6"/><circle cx="565.1" cy="443.8" r="6"/><circle cx="573.2" cy="443.2" r="6"/><circle cx="585.1" cy="444.8" r="6"/><circle cx="596.4" cy="444.8" r="6"/><circle cx="604.5" cy="445.1" r="6"/><circle cx="608.9" cy="448.2" r="6"/><circle cx="608.3" cy="453.8" r="6"/><circle cx="643.7" cy="440.1" r="6"/><circle cx="460.6" cy="452.6" r="6"/><circle cx="474.8" cy="456.3" r="6"/><circle cx="557.6" cy="452.6" r="6"/><circle cx="568.9" cy="453.8" r="6"/><circle cx="541.6" cy="455.7" r="6"/><circle cx="647.4" cy="458.2" r="6"/><circle cx="588.9" cy="460.1" r="6"/><circle cx="597.0" cy="459.4" r="6"/><circle cx="460.0" cy="463.8" r="6"/><circle cx="573.2" cy="461.9" r="6"/><circle cx="557.6" cy="461.9" r="6"/><circle cx="533.8" cy="464.4" r="6"/><circle cx="597.0" cy="465.7" r="6"/><circle cx="545.7" cy="463.8" r="6"/><circle cx="475.0" cy="462.6" r="6"/><circle cx="486.5" cy="461.3" r="6"/><circle cx="495.0" cy="463.2" r="6"/><circle cx="482.5" cy="467.6" r="6"/><circle cx="491.3" cy="468.8" r="6"/><circle cx="498.8" cy="470.1" r="6"/><circle cx="482.5" cy="476.3" r="6"/><circle cx="491.3" cy="476.3" r="6"/><circle cx="502.5" cy="478.2" r="6"/><circle cx="486.5" cy="485.1" r="6"/><circle cx="494.4" cy="482.0" r="6"/><circle cx="474.8" cy="484.8" r="6"/><circle cx="529.8" cy="471.3" r="6"/><circle cx="546.3" cy="471.3" r="6"/><circle cx="550.1" cy="477.6" r="6"/><circle cx="557.0" cy="483.8" r="6"/><circle cx="561.4" cy="470.1" r="6"/><circle cx="588.9" cy="472.6" r="6"/><circle cx="518.2" cy="477.6" r="6"/><circle cx="513.8" cy="481.3" r="6"/><circle cx="518.2" cy="485.1" r="6"/><circle cx="592.6" cy="480.1" r="6"/><circle cx="616.4" cy="481.3" r="6"/><circle cx="585.1" cy="483.2" r="6"/><circle cx="580.7" cy="486.3" r="6"/><circle cx="608.3" cy="490.1" r="6"/><circle cx="616.4" cy="489.5" r="6"/><circle cx="506.3" cy="491.4" r="6"/><circle cx="518.2" cy="491.4" r="6"/><circle cx="526.3" cy="494.5" r="6"/><circle cx="545.7" cy="491.4" r="6"/><circle cx="553.2" cy="493.9" r="6"/><circle cx="572.6" cy="493.2" r="6"/><circle cx="585.1" cy="490.1" r="6"/><circle cx="584.5" cy="498.2" r="6"/><circle cx="651.4" cy="493.2" r="6"/><circle cx="671.2" cy="493.2" r="6"/><circle cx="521.9" cy="503.2" r="6"/><circle cx="533.8" cy="505.7" r="6"/><circle cx="537.6" cy="508.2" r="6"/><circle cx="557.3" cy="506.4" r="6"/><circle cx="627.7" cy="503.2" r="6"/><circle cx="635.8" cy="506.4" r="6"/><circle cx="675.0" cy="506.4" r="6"/><circle cx="490.7" cy="507.6" r="6"/><circle cx="495.0" cy="507.6" r="6"/><circle cx="592.6" cy="510.7" r="6"/><circle cx="659.3" cy="513.2" r="6"/><circle cx="490.7" cy="513.2" r="6"/><circle cx="498.2" cy="517.6" r="6"/><circle cx="514.1" cy="515.8" r="6"/><circle cx="537.6" cy="516.4" r="6"/><circle cx="592.6" cy="517.6" r="6"/><circle cx="620.2" cy="522.6" r="6"/><circle cx="476.3" cy="515.1" r="6"/><circle cx="466.9" cy="520.1" r="6"/><circle cx="482.5" cy="522.6" r="6"/><circle cx="577.0" cy="521.4" r="6"/><circle cx="568.9" cy="523.3" r="6"/><circle cx="702.8" cy="461.6" r="6"/><circle cx="741.9" cy="468.2" r="6"/><circle cx="792.8" cy="474.8" r="6"/><circle cx="851.8" cy="451.6" r="6"/><circle cx="340.7" cy="527.8" r="6"/><circle cx="345.1" cy="531.5" r="6"/><circle cx="400.2" cy="526.9" r="6"/><circle cx="419.8" cy="533.1" r="6"/><circle cx="435.2" cy="533.1" r="6"/><circle cx="388.3" cy="541.3" r="6"/><circle cx="383.9" cy="545.0" r="6"/><circle cx="412.1" cy="541.3" r="6"/><circle cx="447.1" cy="542.5" r="6"/><circle cx="443.3" cy="548.1" r="6"/><circle cx="400.2" cy="549.8" r="6"/><circle cx="368.6" cy="556.3" r="6"/><circle cx="380.5" cy="556.3" r="6"/><circle cx="431.5" cy="557.8" r="6"/><circle cx="435.2" cy="559.4" r="6"/><circle cx="357.0" cy="567.9" r="6"/><circle cx="396.2" cy="566.0" r="6"/><circle cx="451.2" cy="569.4" r="6"/><circle cx="407.7" cy="570.7" r="6"/><circle cx="412.1" cy="576.1" r="6"/><circle cx="400.2" cy="576.3" r="6"/><circle cx="435.2" cy="576.1" r="6"/><circle cx="384.5" cy="582.9" r="6"/><circle cx="341.1" cy="584.4" r="6"/><circle cx="455.2" cy="584.1" r="6"/><circle cx="419.8" cy="587.6" r="6"/><circle cx="439.6" cy="590.7" r="6"/><circle cx="457.7" cy="590.1" r="6"/><circle cx="353.0" cy="594.4" r="6"/><circle cx="423.7" cy="595.7" r="6"/><circle cx="443.3" cy="598.2" r="6"/><circle cx="317.6" cy="599.4" r="6"/><circle cx="329.5" cy="601.1" r="6"/><circle cx="455.2" cy="602.6" r="6"/><circle cx="376.4" cy="604.5" r="6"/><circle cx="348.9" cy="606.1" r="6"/><circle cx="423.7" cy="606.1" r="6"/><circle cx="443.3" cy="614.5" r="6"/><circle cx="411.4" cy="615.7" r="6"/><circle cx="419.8" cy="617.6" r="6"/><circle cx="411.4" cy="621.3" r="6"/><circle cx="419.8" cy="621.3" r="6"/><circle cx="431.5" cy="619.5" r="6"/><circle cx="246.9" cy="622.6" r="6"/><circle cx="333.2" cy="624.2" r="6"/><circle cx="302.0" cy="629.2" r="6"/><circle cx="286.1" cy="632.4" r="6"/><circle cx="451.2" cy="632.6" r="6"/><circle cx="407.7" cy="634.5" r="6"/><circle cx="423.7" cy="632.6" r="6"/><circle cx="431.5" cy="637.6" r="6"/><circle cx="286.1" cy="641.4" r="6"/><circle cx="360.8" cy="642.6" r="6"/><circle cx="419.8" cy="642.0" r="6"/><circle cx="396.2" cy="645.7" r="6"/><circle cx="411.4" cy="645.7" r="6"/><circle cx="419.8" cy="646.4" r="6"/><circle cx="443.3" cy="644.5" r="6"/><circle cx="457.7" cy="645.1" r="6"/><circle cx="294.1" cy="655.8" r="6"/><circle cx="388.3" cy="659.1" r="6"/><circle cx="472.5" cy="533.8" r="6"/><circle cx="490.7" cy="539.4" r="6"/><circle cx="501.9" cy="533.1" r="6"/><circle cx="510.1" cy="532.5" r="6"/><circle cx="503.8" cy="539.4" r="6"/><circle cx="513.2" cy="537.5" r="6"/><circle cx="510.1" cy="543.8" r="6"/><circle cx="521.9" cy="528.8" r="6"/><circle cx="533.8" cy="534.8" r="6"/><circle cx="540.1" cy="531.3" r="6"/><circle cx="546.3" cy="532.5" r="6"/><circle cx="545.1" cy="538.1" r="6"/><circle cx="557.0" cy="529.4" r="6"/><circle cx="561.4" cy="535.6" r="6"/><circle cx="560.1" cy="542.5" r="6"/><circle cx="561.4" cy="550.7" r="6"/><circle cx="568.9" cy="548.8" r="6"/><circle cx="568.9" cy="540.0" r="6"/><circle cx="577.0" cy="537.5" r="6"/><circle cx="583.9" cy="538.8" r="6"/><circle cx="589.5" cy="529.4" r="6"/><circle cx="592.6" cy="535.0" r="6"/><circle cx="584.5" cy="543.8" r="6"/><circle cx="577.0" cy="543.8" r="6"/><circle cx="620.2" cy="533.1" r="6"/><circle cx="643.7" cy="534.8" r="6"/><circle cx="663.3" cy="528.1" r="6"/><circle cx="597.6" cy="546.3" r="6"/><circle cx="601.4" cy="546.9" r="6"/><circle cx="612.0" cy="548.1" r="6"/><circle cx="616.4" cy="550.0" r="6"/><circle cx="620.8" cy="545.6" r="6"/><circle cx="671.5" cy="544.4" r="6"/><circle cx="683.3" cy="545.6" r="6"/><circle cx="687.1" cy="546.3" r="6"/><circle cx="691.2" cy="551.9" r="6"/><circle cx="655.2" cy="551.3" r="6"/><circle cx="636.2" cy="552.5" r="6"/><circle cx="640.2" cy="559.4" r="6"/><circle cx="643.9" cy="564.4" r="6"/><circle cx="639.6" cy="571.3" r="6"/><circle cx="482.5" cy="546.9" r="6"/><circle cx="478.8" cy="556.9" r="6"/><circle cx="486.9" cy="562.5" r="6"/><circle cx="491.3" cy="568.8" r="6"/><circle cx="498.8" cy="572.5" r="6"/><circle cx="490.7" cy="578.8" r="6"/><circle cx="494.4" cy="588.8" r="6"/><circle cx="490.0" cy="595.1" r="6"/><circle cx="482.5" cy="600.1" r="6"/><circle cx="482.5" cy="608.2" r="6"/><circle cx="463.8" cy="553.8" r="6"/><circle cx="502.3" cy="554.4" r="6"/><circle cx="517.8" cy="560.7" r="6"/><circle cx="521.9" cy="558.8" r="6"/><circle cx="529.8" cy="562.5" r="6"/><circle cx="533.8" cy="557.5" r="6"/><circle cx="541.6" cy="559.4" r="6"/><circle cx="549.1" cy="567.9" r="6"/><circle cx="568.9" cy="560.7" r="6"/><circle cx="572.6" cy="568.2" r="6"/><circle cx="584.5" cy="561.3" r="6"/><circle cx="588.9" cy="572.5" r="6"/><circle cx="580.1" cy="576.3" r="6"/><circle cx="572.6" cy="581.3" r="6"/><circle cx="565.1" cy="587.6" r="6"/><circle cx="584.5" cy="581.3" r="6"/><circle cx="592.6" cy="582.6" r="6"/><circle cx="596.4" cy="590.1" r="6"/><circle cx="604.5" cy="590.7" r="6"/><circle cx="600.8" cy="597.6" r="6"/><circle cx="470.6" cy="565.7" r="6"/><circle cx="466.3" cy="572.5" r="6"/><circle cx="466.9" cy="581.3" r="6"/><circle cx="478.8" cy="579.4" r="6"/><circle cx="659.8" cy="570.7" r="6"/><circle cx="663.3" cy="573.2" r="6"/><circle cx="651.4" cy="581.1" r="6"/><circle cx="623.9" cy="584.2" r="6"/><circle cx="510.1" cy="583.8" r="6"/><circle cx="513.8" cy="583.8" r="6"/><circle cx="510.1" cy="592.6" r="6"/><circle cx="525.7" cy="590.7" r="6"/><circle cx="537.6" cy="584.4" r="6"/><circle cx="541.3" cy="590.1" r="6"/><circle cx="549.5" cy="582.6" r="6"/><circle cx="550.1" cy="588.8" r="6"/><circle cx="577.0" cy="594.4" r="6"/><circle cx="640.2" cy="592.6" r="6"/><circle cx="647.7" cy="600.7" r="6"/><circle cx="643.3" cy="606.3" r="6"/><circle cx="663.3" cy="595.9" r="6"/><circle cx="623.9" cy="599.4" r="6"/><circle cx="470.6" cy="602.6" r="6"/><circle cx="502.3" cy="602.6" r="6"/><circle cx="510.1" cy="609.5" r="6"/><circle cx="533.8" cy="600.7" r="6"/><circle cx="521.9" cy="604.5" r="6"/><circle cx="526.3" cy="606.3" r="6"/><circle cx="525.7" cy="615.1" r="6"/><circle cx="553.2" cy="605.7" r="6"/><circle cx="553.2" cy="612.6" r="6"/><circle cx="553.2" cy="621.3" r="6"/><circle cx="561.4" cy="617.6" r="6"/><circle cx="568.9" cy="617.6" r="6"/><circle cx="588.9" cy="604.5" r="6"/><circle cx="592.6" cy="613.8" r="6"/><circle cx="584.5" cy="619.5" r="6"/><circle cx="537.6" cy="615.7" r="6"/><circle cx="537.6" cy="619.5" r="6"/><circle cx="616.4" cy="612.6" r="6"/><circle cx="620.2" cy="614.5" r="6"/><circle cx="675.0" cy="617.6" r="6"/><circle cx="690.9" cy="622.6" r="6"/><circle cx="463.1" cy="618.8" r="6"/><circle cx="467.5" cy="618.6" r="6"/><circle cx="478.8" cy="627.6" r="6"/><circle cx="490.7" cy="627.6" r="6"/><circle cx="506.3" cy="627.6" r="6"/><circle cx="608.3" cy="625.7" r="6"/><circle cx="600.8" cy="628.9" r="6"/><circle cx="604.5" cy="637.6" r="6"/><circle cx="568.9" cy="632.6" r="6"/><circle cx="565.1" cy="640.7" r="6"/><circle cx="580.7" cy="635.7" r="6"/><circle cx="588.9" cy="642.6" r="6"/><circle cx="521.9" cy="625.1" r="6"/><circle cx="518.2" cy="631.4" r="6"/><circle cx="513.8" cy="637.6" r="6"/><circle cx="521.9" cy="637.6" r="6"/><circle cx="530.1" cy="635.1" r="6"/><circle cx="537.6" cy="637.0" r="6"/><circle cx="546.3" cy="640.7" r="6"/><circle cx="550.1" cy="647.0" r="6"/><circle cx="518.2" cy="645.1" r="6"/><circle cx="513.8" cy="652.6" r="6"/><circle cx="525.7" cy="651.4" r="6"/><circle cx="471.3" cy="635.7" r="6"/><circle cx="465.0" cy="642.0" r="6"/><circle cx="486.3" cy="637.6" r="6"/><circle cx="482.5" cy="643.9" r="6"/><circle cx="490.7" cy="643.9" r="6"/><circle cx="482.5" cy="650.1" r="6"/><circle cx="494.4" cy="648.9" r="6"/><circle cx="651.4" cy="639.1" r="6"/><circle cx="683.1" cy="642.6" r="6"/><circle cx="561.4" cy="652.6" r="6"/><circle cx="572.6" cy="655.1" r="6"/><circle cx="541.3" cy="656.4" r="6"/><circle cx="553.2" cy="655.1" r="6"/><circle cx="592.6" cy="656.4" r="6"/><circle cx="616.2" cy="655.1" r="6"/><circle cx="714.4" cy="571.0" r="6"/><circle cx="761.3" cy="597.8" r="6"/><circle cx="855.8" cy="547.9" r="6"/><circle cx="364.8" cy="661.0" r="6"/><circle cx="407.7" cy="660.6" r="6"/><circle cx="424.6" cy="660.6" r="6"/><circle cx="419.8" cy="665.6" r="6"/><circle cx="455.2" cy="672.5" r="6"/><circle cx="431.5" cy="680.9" r="6"/><circle cx="439.6" cy="680.9" r="6"/><circle cx="349.1" cy="682.5" r="6"/><circle cx="290.1" cy="687.5" r="6"/><circle cx="451.2" cy="697.5" r="6"/><circle cx="455.2" cy="700.7" r="6"/><circle cx="423.7" cy="705.7" r="6"/><circle cx="415.8" cy="714.1" r="6"/><circle cx="455.2" cy="727.3" r="6"/><circle cx="341.1" cy="742.2" r="6"/><circle cx="400.2" cy="743.8" r="6"/><circle cx="231.3" cy="750.5" r="6"/><circle cx="439.6" cy="752.2" r="6"/><circle cx="364.8" cy="762.2" r="6"/><circle cx="431.5" cy="762.2" r="6"/><circle cx="457.7" cy="772.0" r="6"/><circle cx="396.2" cy="775.4" r="6"/><circle cx="439.2" cy="785.4" r="6"/><circle cx="376.4" cy="787.0" r="6"/><circle cx="380.8" cy="787.0" r="6"/><circle cx="465.0" cy="662.5" r="6"/><circle cx="472.5" cy="666.3" r="6"/><circle cx="476.3" cy="670.0" r="6"/><circle cx="466.9" cy="674.4" r="6"/><circle cx="490.7" cy="662.8" r="6"/><circle cx="502.3" cy="665.6" r="6"/><circle cx="510.1" cy="663.8" r="6"/><circle cx="513.8" cy="666.3" r="6"/><circle cx="521.9" cy="665.6" r="6"/><circle cx="525.7" cy="670.6" r="6"/><circle cx="537.6" cy="669.0" r="6"/><circle cx="565.1" cy="667.5" r="6"/><circle cx="568.9" cy="675.0" r="6"/><circle cx="565.1" cy="680.6" r="6"/><circle cx="553.2" cy="675.6" r="6"/><circle cx="577.0" cy="673.8" r="6"/><circle cx="588.9" cy="673.8" r="6"/><circle cx="596.4" cy="673.8" r="6"/><circle cx="623.9" cy="672.5" r="6"/><circle cx="628.9" cy="669.8" r="6"/><circle cx="634.5" cy="668.5" r="6"/><circle cx="639.9" cy="667.3" r="6"/><circle cx="494.4" cy="676.9" r="6"/><circle cx="494.4" cy="683.8" r="6"/><circle cx="502.5" cy="682.5" r="6"/><circle cx="584.5" cy="685.7" r="6"/><circle cx="463.8" cy="692.3" r="6"/><circle cx="494.4" cy="695.7" r="6"/><circle cx="502.3" cy="700.7" r="6"/><circle cx="529.8" cy="689.4" r="6"/><circle cx="537.6" cy="693.2" r="6"/><circle cx="545.7" cy="689.4" r="6"/><circle cx="537.6" cy="700.0" r="6"/><circle cx="683.3" cy="697.3" r="6"/><circle cx="521.9" cy="703.8" r="6"/><circle cx="510.1" cy="710.7" r="6"/><circle cx="513.8" cy="710.7" r="6"/><circle cx="557.6" cy="701.9" r="6"/><circle cx="549.1" cy="705.7" r="6"/><circle cx="592.6" cy="702.5" r="6"/><circle cx="585.1" cy="708.8" r="6"/><circle cx="592.6" cy="709.4" r="6"/><circle cx="600.8" cy="708.8" r="6"/><circle cx="592.6" cy="713.8" r="6"/><circle cx="612.0" cy="702.3" r="6"/><circle cx="639.9" cy="700.7" r="6"/><circle cx="639.9" cy="705.7" r="6"/><circle cx="635.8" cy="714.1" r="6"/><circle cx="577.0" cy="718.8" r="6"/><circle cx="577.0" cy="728.8" r="6"/><circle cx="486.5" cy="725.7" r="6"/><circle cx="506.3" cy="732.2" r="6"/><circle cx="561.1" cy="725.4" r="6"/><circle cx="541.6" cy="733.8" r="6"/><circle cx="565.1" cy="738.8" r="6"/><circle cx="573.2" cy="741.1" r="6"/><circle cx="494.4" cy="742.2" r="6"/><circle cx="549.5" cy="746.3" r="6"/><circle cx="547.6" cy="750.7" r="6"/><circle cx="545.1" cy="754.5" r="6"/><circle cx="482.5" cy="755.5" r="6"/><circle cx="502.3" cy="753.8" r="6"/><circle cx="557.3" cy="765.5" r="6"/><circle cx="502.3" cy="767.2" r="6"/><circle cx="498.2" cy="777.2" r="6"/><circle cx="529.8" cy="773.2" r="6"/><circle cx="533.8" cy="778.9" r="6"/><circle cx="517.8" cy="790.1" r="6"/><circle cx="577.0" cy="792.0" r="6"/><circle cx="341.1" cy="811.9" r="6"/><circle cx="419.8" cy="816.9" r="6"/><circle cx="458.4" cy="800.3" r="6"/><circle cx="455.2" cy="885.1" r="6"/><circle cx="577.0" cy="801.9" r="6"/><circle cx="466.9" cy="899.9" r="6"/><circle cx="510.1" cy="898.2" r="6"/><circle cx="553.2" cy="896.6" r="6"/><circle cx="577.0" cy="895.1" r="6"/>
</g>
<g clip-path="url(#clipR)" fill="#da1219">
<circle cx="1263.7" cy="257.8" r="6"/><circle cx="1299.2" cy="270.6" r="6"/><circle cx="1342.3" cy="267.5" r="6"/><circle cx="1362.0" cy="282.2" r="6"/><circle cx="1354.2" cy="297.2" r="6"/><circle cx="1287.5" cy="303.8" r="6"/><circle cx="1303.2" cy="308.8" r="6"/><circle cx="1154.0" cy="317.2" r="6"/><circle cx="1318.8" cy="325.3" r="6"/><circle cx="1380.7" cy="323.8" r="6"/><circle cx="1362.0" cy="358.6" r="6"/><circle cx="1346.3" cy="362.0" r="6"/><circle cx="1271.9" cy="372.0" r="6"/><circle cx="1212.8" cy="377.0" r="6"/><circle cx="1338.4" cy="378.6" r="6"/><circle cx="1263.7" cy="383.6" r="6"/><circle cx="1374.2" cy="387.9" r="6"/><circle cx="1420.9" cy="287.2" r="6"/><circle cx="1499.4" cy="286.3" r="6"/><circle cx="1452.4" cy="303.8" r="6"/><circle cx="1468.1" cy="310.3" r="6"/><circle cx="1487.9" cy="313.8" r="6"/><circle cx="1480.0" cy="320.3" r="6"/><circle cx="1424.9" cy="320.4" r="6"/><circle cx="1440.6" cy="330.3" r="6"/><circle cx="1404.9" cy="333.6" r="6"/><circle cx="1409.5" cy="335.7" r="6"/><circle cx="1472.1" cy="333.6" r="6"/><circle cx="1472.1" cy="340.7" r="6"/><circle cx="1472.1" cy="347.0" r="6"/><circle cx="1499.4" cy="337.0" r="6"/><circle cx="1507.5" cy="345.1" r="6"/><circle cx="1417.0" cy="343.6" r="6"/><circle cx="1424.9" cy="352.0" r="6"/><circle cx="1456.2" cy="355.1" r="6"/><circle cx="1499.4" cy="355.1" r="6"/><circle cx="1511.3" cy="355.1" r="6"/><circle cx="1562.2" cy="357.0" r="6"/><circle cx="1523.1" cy="363.2" r="6"/><circle cx="1417.0" cy="365.1" r="6"/><circle cx="1464.3" cy="365.1" r="6"/><circle cx="1428.7" cy="367.0" r="6"/><circle cx="1436.8" cy="370.1" r="6"/><circle cx="1424.9" cy="375.1" r="6"/><circle cx="1452.4" cy="368.6" r="6"/><circle cx="1495.6" cy="370.1" r="6"/><circle cx="1515.3" cy="372.0" r="6"/><circle cx="1534.8" cy="373.2" r="6"/><circle cx="1468.1" cy="377.0" r="6"/><circle cx="1480.0" cy="377.0" r="6"/><circle cx="1488.1" cy="375.1" r="6"/><circle cx="1558.2" cy="376.6" r="6"/><circle cx="1393.6" cy="385.1" r="6"/><circle cx="1444.3" cy="385.1" r="6"/><circle cx="1460.3" cy="383.3" r="6"/><circle cx="1507.5" cy="382.0" r="6"/><circle cx="1546.7" cy="382.0" r="6"/><circle cx="1488.1" cy="387.0" r="6"/><circle cx="1378.2" cy="391.5" r="6"/><circle cx="1334.4" cy="398.5" r="6"/><circle cx="1362.0" cy="403.4" r="6"/><circle cx="1311.0" cy="413.4" r="6"/><circle cx="1342.3" cy="421.5" r="6"/><circle cx="1287.5" cy="426.7" r="6"/><circle cx="1256.0" cy="430.0" r="6"/><circle cx="1208.9" cy="435.0" r="6"/><circle cx="1216.8" cy="441.3" r="6"/><circle cx="1224.6" cy="438.2" r="6"/><circle cx="1323.2" cy="434.8" r="6"/><circle cx="1334.4" cy="433.2" r="6"/><circle cx="1330.7" cy="441.3" r="6"/><circle cx="1330.3" cy="448.2" r="6"/><circle cx="1346.3" cy="435.0" r="6"/><circle cx="1354.5" cy="431.9" r="6"/><circle cx="1366.1" cy="433.2" r="6"/><circle cx="1378.2" cy="430.0" r="6"/><circle cx="1378.2" cy="436.3" r="6"/><circle cx="1354.5" cy="446.9" r="6"/><circle cx="1342.8" cy="448.6" r="6"/><circle cx="1342.8" cy="456.9" r="6"/><circle cx="1349.5" cy="455.7" r="6"/><circle cx="1354.2" cy="463.2" r="6"/><circle cx="1208.9" cy="463.2" r="6"/><circle cx="1374.2" cy="468.6" r="6"/><circle cx="1263.7" cy="474.8" r="6"/><circle cx="1251.9" cy="479.8" r="6"/><circle cx="1306.9" cy="478.0" r="6"/><circle cx="1322.8" cy="478.2" r="6"/><circle cx="1329.4" cy="477.8" r="6"/><circle cx="1334.8" cy="476.3" r="6"/><circle cx="1366.1" cy="483.2" r="6"/><circle cx="1377.6" cy="481.6" r="6"/><circle cx="1299.2" cy="489.8" r="6"/><circle cx="1318.8" cy="489.8" r="6"/><circle cx="1342.3" cy="488.8" r="6"/><circle cx="1169.7" cy="493.2" r="6"/><circle cx="1354.2" cy="494.9" r="6"/><circle cx="1271.9" cy="493.2" r="6"/><circle cx="1275.6" cy="503.2" r="6"/><circle cx="1283.4" cy="506.4" r="6"/><circle cx="1318.8" cy="511.4" r="6"/><circle cx="1330.7" cy="512.6" r="6"/><circle cx="1334.4" cy="511.1" r="6"/><circle cx="1358.0" cy="509.7" r="6"/><circle cx="1366.1" cy="516.4" r="6"/><circle cx="1378.2" cy="509.5" r="6"/><circle cx="1240.3" cy="516.4" r="6"/><circle cx="1303.2" cy="518.3" r="6"/><circle cx="1342.3" cy="524.1" r="6"/><circle cx="1470.6" cy="450.1" r="6"/><circle cx="1450.6" cy="461.3" r="6"/><circle cx="1441.8" cy="455.1" r="6"/><circle cx="1435.6" cy="451.3" r="6"/><circle cx="1478.1" cy="452.6" r="6"/><circle cx="1458.1" cy="456.3" r="6"/><circle cx="1468.1" cy="465.1" r="6"/><circle cx="1445.6" cy="432.5" r="6"/><circle cx="1453.1" cy="440.1" r="6"/><circle cx="1515.3" cy="390.0" r="6"/><circle cx="1562.6" cy="390.0" r="6"/><circle cx="1605.7" cy="391.9" r="6"/><circle cx="1531.0" cy="396.5" r="6"/><circle cx="1416.8" cy="401.9" r="6"/><circle cx="1424.9" cy="399.8" r="6"/><circle cx="1433.1" cy="399.8" r="6"/><circle cx="1416.2" cy="408.8" r="6"/><circle cx="1425.5" cy="413.8" r="6"/><circle cx="1413.0" cy="418.2" r="6"/><circle cx="1424.9" cy="421.3" r="6"/><circle cx="1413.0" cy="424.4" r="6"/><circle cx="1460.0" cy="398.8" r="6"/><circle cx="1468.1" cy="396.5" r="6"/><circle cx="1476.2" cy="396.9" r="6"/><circle cx="1460.6" cy="406.3" r="6"/><circle cx="1464.3" cy="411.9" r="6"/><circle cx="1460.3" cy="421.3" r="6"/><circle cx="1443.1" cy="410.0" r="6"/><circle cx="1449.3" cy="409.4" r="6"/><circle cx="1436.8" cy="418.5" r="6"/><circle cx="1484.1" cy="408.1" r="6"/><circle cx="1487.9" cy="415.0" r="6"/><circle cx="1499.4" cy="405.0" r="6"/><circle cx="1515.3" cy="406.3" r="6"/><circle cx="1519.4" cy="411.9" r="6"/><circle cx="1538.8" cy="416.7" r="6"/><circle cx="1558.8" cy="410.0" r="6"/><circle cx="1562.6" cy="413.8" r="6"/><circle cx="1385.5" cy="413.1" r="6"/><circle cx="1397.4" cy="415.0" r="6"/><circle cx="1386.1" cy="425.0" r="6"/><circle cx="1515.3" cy="425.0" r="6"/><circle cx="1448.7" cy="425.0" r="6"/><circle cx="1439.9" cy="428.2" r="6"/><circle cx="1452.4" cy="431.9" r="6"/><circle cx="1460.0" cy="438.2" r="6"/><circle cx="1445.6" cy="440.1" r="6"/><circle cx="1471.8" cy="435.0" r="6"/><circle cx="1471.8" cy="440.1" r="6"/><circle cx="1456.8" cy="446.3" r="6"/><circle cx="1453.1" cy="452.6" r="6"/><circle cx="1463.1" cy="455.1" r="6"/><circle cx="1469.3" cy="457.6" r="6"/><circle cx="1475.6" cy="460.1" r="6"/><circle cx="1439.3" cy="448.8" r="6"/><circle cx="1429.3" cy="455.1" r="6"/><circle cx="1428.0" cy="460.1" r="6"/><circle cx="1439.3" cy="460.1" r="6"/><circle cx="1463.1" cy="462.6" r="6"/><circle cx="1448.1" cy="468.8" r="6"/><circle cx="1405.3" cy="434.0" r="6"/><circle cx="1405.5" cy="439.4" r="6"/><circle cx="1393.6" cy="443.2" r="6"/><circle cx="1413.0" cy="446.9" r="6"/><circle cx="1433.1" cy="441.3" r="6"/><circle cx="1484.1" cy="433.2" r="6"/><circle cx="1491.9" cy="435.7" r="6"/><circle cx="1550.7" cy="438.2" r="6"/><circle cx="1598.0" cy="438.2" r="6"/><circle cx="1605.7" cy="445.1" r="6"/><circle cx="1511.3" cy="445.1" r="6"/><circle cx="1507.5" cy="451.3" r="6"/><circle cx="1511.3" cy="456.9" r="6"/><circle cx="1484.1" cy="451.3" r="6"/><circle cx="1523.1" cy="455.1" r="6"/><circle cx="1526.9" cy="464.8" r="6"/><circle cx="1538.8" cy="459.8" r="6"/><circle cx="1389.3" cy="455.7" r="6"/><circle cx="1401.1" cy="455.1" r="6"/><circle cx="1409.3" cy="458.2" r="6"/><circle cx="1393.0" cy="461.9" r="6"/><circle cx="1404.9" cy="463.2" r="6"/><circle cx="1386.1" cy="467.6" r="6"/><circle cx="1495.6" cy="463.2" r="6"/><circle cx="1484.1" cy="463.2" r="6"/><circle cx="1566.3" cy="464.4" r="6"/><circle cx="1574.4" cy="470.1" r="6"/><circle cx="1581.9" cy="476.6" r="6"/><circle cx="1507.5" cy="471.3" r="6"/><circle cx="1409.3" cy="475.1" r="6"/><circle cx="1413.0" cy="482.6" r="6"/><circle cx="1416.8" cy="490.1" r="6"/><circle cx="1424.9" cy="476.3" r="6"/><circle cx="1433.1" cy="481.3" r="6"/><circle cx="1433.1" cy="490.1" r="6"/><circle cx="1448.1" cy="476.3" r="6"/><circle cx="1456.8" cy="478.2" r="6"/><circle cx="1445.6" cy="480.1" r="6"/><circle cx="1468.1" cy="476.3" r="6"/><circle cx="1476.2" cy="473.2" r="6"/><circle cx="1523.1" cy="478.0" r="6"/><circle cx="1554.4" cy="479.8" r="6"/><circle cx="1613.2" cy="476.6" r="6"/><circle cx="1389.9" cy="481.3" r="6"/><circle cx="1393.6" cy="487.6" r="6"/><circle cx="1389.9" cy="494.5" r="6"/><circle cx="1491.9" cy="481.3" r="6"/><circle cx="1503.7" cy="484.5" r="6"/><circle cx="1488.1" cy="488.8" r="6"/><circle cx="1508.1" cy="492.6" r="6"/><circle cx="1476.2" cy="490.1" r="6"/><circle cx="1484.1" cy="489.5" r="6"/><circle cx="1464.3" cy="491.4" r="6"/><circle cx="1459.3" cy="497.6" r="6"/><circle cx="1448.7" cy="490.1" r="6"/><circle cx="1543.2" cy="484.5" r="6"/><circle cx="1546.7" cy="494.9" r="6"/><circle cx="1526.9" cy="489.8" r="6"/><circle cx="1405.5" cy="494.5" r="6"/><circle cx="1416.8" cy="500.1" r="6"/><circle cx="1409.3" cy="505.1" r="6"/><circle cx="1433.1" cy="501.4" r="6"/><circle cx="1444.3" cy="501.4" r="6"/><circle cx="1456.8" cy="498.9" r="6"/><circle cx="1488.1" cy="497.6" r="6"/><circle cx="1495.6" cy="502.6" r="6"/><circle cx="1503.7" cy="497.6" r="6"/><circle cx="1511.9" cy="500.1" r="6"/><circle cx="1515.6" cy="499.5" r="6"/><circle cx="1570.1" cy="504.5" r="6"/><circle cx="1574.4" cy="502.6" r="6"/><circle cx="1585.7" cy="501.4" r="6"/><circle cx="1519.4" cy="511.1" r="6"/><circle cx="1468.1" cy="509.5" r="6"/><circle cx="1472.5" cy="513.2" r="6"/><circle cx="1503.7" cy="510.7" r="6"/><circle cx="1491.9" cy="513.9" r="6"/><circle cx="1389.9" cy="509.5" r="6"/><circle cx="1385.5" cy="515.1" r="6"/><circle cx="1401.8" cy="513.9" r="6"/><circle cx="1413.0" cy="517.6" r="6"/><circle cx="1420.5" cy="520.8" r="6"/><circle cx="1433.1" cy="517.6" r="6"/><circle cx="1444.3" cy="517.6" r="6"/><circle cx="1452.4" cy="520.8" r="6"/><circle cx="1472.5" cy="521.4" r="6"/><circle cx="1546.7" cy="516.4" r="6"/><circle cx="1539.4" cy="522.6" r="6"/><circle cx="1562.6" cy="514.5" r="6"/><circle cx="1585.7" cy="513.6" r="6"/><circle cx="1508.1" cy="520.1" r="6"/><circle cx="1491.9" cy="522.6" r="6"/><circle cx="1683.9" cy="469.8" r="6"/><circle cx="1636.8" cy="508.2" r="6"/><circle cx="1620.7" cy="509.5" r="6"/><circle cx="1334.4" cy="529.8" r="6"/><circle cx="1263.7" cy="534.4" r="6"/><circle cx="1268.1" cy="537.5" r="6"/><circle cx="1279.4" cy="536.0" r="6"/><circle cx="1311.0" cy="532.8" r="6"/><circle cx="1291.3" cy="544.4" r="6"/><circle cx="1306.9" cy="544.4" r="6"/><circle cx="1322.8" cy="542.8" r="6"/><circle cx="1322.8" cy="545.0" r="6"/><circle cx="1354.5" cy="532.5" r="6"/><circle cx="1365.7" cy="531.3" r="6"/><circle cx="1362.0" cy="537.5" r="6"/><circle cx="1373.2" cy="538.8" r="6"/><circle cx="1358.2" cy="547.5" r="6"/><circle cx="1369.5" cy="543.8" r="6"/><circle cx="1373.9" cy="551.3" r="6"/><circle cx="1212.8" cy="552.8" r="6"/><circle cx="1342.3" cy="549.4" r="6"/><circle cx="1315.0" cy="557.5" r="6"/><circle cx="1338.4" cy="561.3" r="6"/><circle cx="1322.8" cy="566.0" r="6"/><circle cx="1315.0" cy="567.5" r="6"/><circle cx="1299.2" cy="567.5" r="6"/><circle cx="1306.9" cy="572.5" r="6"/><circle cx="1299.2" cy="576.1" r="6"/><circle cx="1366.3" cy="561.3" r="6"/><circle cx="1373.9" cy="558.2" r="6"/><circle cx="1370.1" cy="569.4" r="6"/><circle cx="1267.7" cy="589.4" r="6"/><circle cx="1315.0" cy="589.4" r="6"/><circle cx="1342.3" cy="586.1" r="6"/><circle cx="1373.9" cy="593.2" r="6"/><circle cx="1378.2" cy="590.7" r="6"/><circle cx="1380.7" cy="598.8" r="6"/><circle cx="1326.3" cy="607.6" r="6"/><circle cx="1330.7" cy="611.3" r="6"/><circle cx="1342.3" cy="604.5" r="6"/><circle cx="1342.3" cy="608.6" r="6"/><circle cx="1354.2" cy="602.6" r="6"/><circle cx="1362.0" cy="606.1" r="6"/><circle cx="1306.9" cy="614.1" r="6"/><circle cx="1303.2" cy="622.6" r="6"/><circle cx="1306.9" cy="632.6" r="6"/><circle cx="1322.8" cy="619.1" r="6"/><circle cx="1322.8" cy="622.8" r="6"/><circle cx="1260.0" cy="617.6" r="6"/><circle cx="1373.9" cy="617.6" r="6"/><circle cx="1380.7" cy="614.5" r="6"/><circle cx="1354.2" cy="630.7" r="6"/><circle cx="1366.1" cy="632.6" r="6"/><circle cx="1271.9" cy="640.7" r="6"/><circle cx="1247.9" cy="644.1" r="6"/><circle cx="1322.8" cy="648.9" r="6"/><circle cx="1326.3" cy="655.1" r="6"/><circle cx="1338.4" cy="652.0" r="6"/><circle cx="1354.2" cy="643.9" r="6"/><circle cx="1350.7" cy="650.1" r="6"/><circle cx="1404.3" cy="526.0" r="6"/><circle cx="1424.9" cy="534.4" r="6"/><circle cx="1440.6" cy="534.4" r="6"/><circle cx="1413.0" cy="537.5" r="6"/><circle cx="1413.0" cy="543.8" r="6"/><circle cx="1433.1" cy="544.4" r="6"/><circle cx="1468.1" cy="541.3" r="6"/><circle cx="1460.0" cy="550.7" r="6"/><circle cx="1468.1" cy="552.5" r="6"/><circle cx="1488.1" cy="531.3" r="6"/><circle cx="1483.1" cy="538.8" r="6"/><circle cx="1491.9" cy="538.1" r="6"/><circle cx="1495.6" cy="547.9" r="6"/><circle cx="1508.1" cy="531.3" r="6"/><circle cx="1515.6" cy="528.8" r="6"/><circle cx="1508.1" cy="538.8" r="6"/><circle cx="1515.6" cy="537.5" r="6"/><circle cx="1523.8" cy="537.5" r="6"/><circle cx="1508.1" cy="547.5" r="6"/><circle cx="1514.4" cy="547.5" r="6"/><circle cx="1535.0" cy="536.3" r="6"/><circle cx="1538.8" cy="544.4" r="6"/><circle cx="1550.7" cy="544.8" r="6"/><circle cx="1558.2" cy="530.0" r="6"/><circle cx="1563.2" cy="537.5" r="6"/><circle cx="1566.9" cy="539.8" r="6"/><circle cx="1560.7" cy="546.3" r="6"/><circle cx="1558.2" cy="553.2" r="6"/><circle cx="1613.2" cy="531.3" r="6"/><circle cx="1605.5" cy="544.8" r="6"/><circle cx="1393.6" cy="550.7" r="6"/><circle cx="1399.3" cy="547.5" r="6"/><circle cx="1405.5" cy="550.0" r="6"/><circle cx="1413.7" cy="549.4" r="6"/><circle cx="1424.9" cy="553.2" r="6"/><circle cx="1420.5" cy="559.4" r="6"/><circle cx="1425.5" cy="566.3" r="6"/><circle cx="1430.5" cy="572.5" r="6"/><circle cx="1438.1" cy="575.1" r="6"/><circle cx="1441.8" cy="567.5" r="6"/><circle cx="1444.9" cy="563.8" r="6"/><circle cx="1440.6" cy="554.4" r="6"/><circle cx="1386.8" cy="562.5" r="6"/><circle cx="1393.6" cy="567.5" r="6"/><circle cx="1404.3" cy="561.3" r="6"/><circle cx="1413.0" cy="570.7" r="6"/><circle cx="1404.9" cy="575.1" r="6"/><circle cx="1409.9" cy="580.1" r="6"/><circle cx="1417.4" cy="579.4" r="6"/><circle cx="1482.5" cy="555.7" r="6"/><circle cx="1479.3" cy="565.0" r="6"/><circle cx="1456.8" cy="565.0" r="6"/><circle cx="1456.2" cy="574.4" r="6"/><circle cx="1468.1" cy="568.2" r="6"/><circle cx="1468.1" cy="575.7" r="6"/><circle cx="1479.3" cy="575.1" r="6"/><circle cx="1491.9" cy="565.7" r="6"/><circle cx="1499.4" cy="567.5" r="6"/><circle cx="1519.4" cy="557.8" r="6"/><circle cx="1511.9" cy="560.7" r="6"/><circle cx="1506.9" cy="565.0" r="6"/><circle cx="1515.0" cy="571.3" r="6"/><circle cx="1506.9" cy="575.7" r="6"/><circle cx="1542.5" cy="561.3" r="6"/><circle cx="1577.6" cy="555.7" r="6"/><circle cx="1586.3" cy="553.2" r="6"/><circle cx="1593.8" cy="559.4" r="6"/><circle cx="1581.9" cy="566.3" r="6"/><circle cx="1495.6" cy="582.6" r="6"/><circle cx="1448.7" cy="583.8" r="6"/><circle cx="1443.1" cy="588.2" r="6"/><circle cx="1440.6" cy="594.4" r="6"/><circle cx="1401.8" cy="587.6" r="6"/><circle cx="1416.8" cy="593.8" r="6"/><circle cx="1470.6" cy="587.6" r="6"/><circle cx="1483.1" cy="586.3" r="6"/><circle cx="1485.0" cy="593.8" r="6"/><circle cx="1478.1" cy="598.8" r="6"/><circle cx="1469.3" cy="596.3" r="6"/><circle cx="1465.6" cy="591.3" r="6"/><circle cx="1503.7" cy="588.8" r="6"/><circle cx="1511.3" cy="594.4" r="6"/><circle cx="1519.4" cy="587.6" r="6"/><circle cx="1538.8" cy="587.6" r="6"/><circle cx="1543.2" cy="587.6" r="6"/><circle cx="1573.8" cy="582.8" r="6"/><circle cx="1593.8" cy="580.7" r="6"/><circle cx="1598.0" cy="583.2" r="6"/><circle cx="1566.3" cy="592.6" r="6"/><circle cx="1405.5" cy="601.1" r="6"/><circle cx="1416.8" cy="600.1" r="6"/><circle cx="1400.5" cy="606.3" r="6"/><circle cx="1409.9" cy="608.8" r="6"/><circle cx="1420.5" cy="606.3" r="6"/><circle cx="1424.9" cy="609.5" r="6"/><circle cx="1388.6" cy="615.7" r="6"/><circle cx="1397.4" cy="614.1" r="6"/><circle cx="1452.4" cy="607.6" r="6"/><circle cx="1456.8" cy="613.2" r="6"/><circle cx="1451.8" cy="617.0" r="6"/><circle cx="1460.6" cy="622.0" r="6"/><circle cx="1465.0" cy="628.2" r="6"/><circle cx="1471.8" cy="607.6" r="6"/><circle cx="1484.1" cy="612.6" r="6"/><circle cx="1495.6" cy="607.6" r="6"/><circle cx="1495.6" cy="613.2" r="6"/><circle cx="1507.5" cy="605.7" r="6"/><circle cx="1507.5" cy="613.2" r="6"/><circle cx="1507.5" cy="621.3" r="6"/><circle cx="1526.9" cy="604.5" r="6"/><circle cx="1538.8" cy="598.8" r="6"/><circle cx="1538.8" cy="603.2" r="6"/><circle cx="1531.3" cy="614.5" r="6"/><circle cx="1531.3" cy="622.6" r="6"/><circle cx="1519.4" cy="618.8" r="6"/><circle cx="1518.8" cy="627.6" r="6"/><circle cx="1566.3" cy="611.3" r="6"/><circle cx="1570.1" cy="619.5" r="6"/><circle cx="1609.5" cy="611.3" r="6"/><circle cx="1424.9" cy="621.3" r="6"/><circle cx="1424.9" cy="626.4" r="6"/><circle cx="1480.0" cy="622.6" r="6"/><circle cx="1487.9" cy="628.9" r="6"/><circle cx="1409.3" cy="627.6" r="6"/><circle cx="1397.4" cy="634.1" r="6"/><circle cx="1409.3" cy="637.6" r="6"/><circle cx="1424.9" cy="640.7" r="6"/><circle cx="1511.9" cy="630.7" r="6"/><circle cx="1448.1" cy="635.7" r="6"/><circle cx="1440.6" cy="640.7" r="6"/><circle cx="1444.3" cy="645.7" r="6"/><circle cx="1456.8" cy="637.6" r="6"/><circle cx="1456.8" cy="645.7" r="6"/><circle cx="1464.3" cy="635.1" r="6"/><circle cx="1471.8" cy="636.4" r="6"/><circle cx="1479.3" cy="637.0" r="6"/><circle cx="1397.4" cy="645.7" r="6"/><circle cx="1416.8" cy="648.9" r="6"/><circle cx="1476.2" cy="648.9" r="6"/><circle cx="1491.9" cy="648.9" r="6"/><circle cx="1517.5" cy="639.5" r="6"/><circle cx="1515.0" cy="645.7" r="6"/><circle cx="1521.9" cy="652.0" r="6"/><circle cx="1526.9" cy="650.1" r="6"/><circle cx="1397.4" cy="658.6" r="6"/><circle cx="1409.3" cy="658.6" r="6"/><circle cx="1495.6" cy="657.9" r="6"/><circle cx="1778.2" cy="532.9" r="6"/><circle cx="1624.9" cy="614.5" r="6"/><circle cx="1664.3" cy="646.0" r="6"/><circle cx="1715.3" cy="653.9" r="6"/><circle cx="1334.4" cy="661.3" r="6"/><circle cx="1358.2" cy="662.8" r="6"/><circle cx="1366.3" cy="665.6" r="6"/><circle cx="1373.9" cy="670.3" r="6"/><circle cx="1381.4" cy="674.0" r="6"/><circle cx="1338.4" cy="672.5" r="6"/><circle cx="1330.3" cy="679.4" r="6"/><circle cx="1338.4" cy="687.5" r="6"/><circle cx="1279.4" cy="675.6" r="6"/><circle cx="1287.5" cy="684.0" r="6"/><circle cx="1244.1" cy="684.0" r="6"/><circle cx="1263.7" cy="684.0" r="6"/><circle cx="1216.8" cy="689.0" r="6"/><circle cx="1362.0" cy="685.7" r="6"/><circle cx="1354.2" cy="693.8" r="6"/><circle cx="1373.9" cy="692.5" r="6"/><circle cx="1330.3" cy="699.0" r="6"/><circle cx="1318.8" cy="712.2" r="6"/><circle cx="1342.3" cy="715.4" r="6"/><circle cx="1216.8" cy="725.4" r="6"/><circle cx="1228.5" cy="733.8" r="6"/><circle cx="1299.2" cy="733.8" r="6"/><circle cx="1350.1" cy="733.8" r="6"/><circle cx="1271.9" cy="770.5" r="6"/><circle cx="1334.4" cy="768.9" r="6"/><circle cx="1322.8" cy="787.0" r="6"/><circle cx="1401.1" cy="667.5" r="6"/><circle cx="1389.3" cy="672.5" r="6"/><circle cx="1424.9" cy="667.5" r="6"/><circle cx="1433.1" cy="672.5" r="6"/><circle cx="1436.8" cy="684.0" r="6"/><circle cx="1460.0" cy="670.6" r="6"/><circle cx="1456.2" cy="680.6" r="6"/><circle cx="1475.6" cy="667.5" r="6"/><circle cx="1484.1" cy="661.9" r="6"/><circle cx="1511.3" cy="661.0" r="6"/><circle cx="1531.0" cy="667.5" r="6"/><circle cx="1499.4" cy="677.3" r="6"/><circle cx="1570.1" cy="670.6" r="6"/><circle cx="1585.7" cy="679.0" r="6"/><circle cx="1409.3" cy="691.9" r="6"/><circle cx="1417.4" cy="693.8" r="6"/><circle cx="1464.3" cy="692.3" r="6"/><circle cx="1472.5" cy="690.7" r="6"/><circle cx="1476.2" cy="698.8" r="6"/><circle cx="1480.0" cy="703.8" r="6"/><circle cx="1476.2" cy="710.7" r="6"/><circle cx="1464.3" cy="710.7" r="6"/><circle cx="1413.0" cy="703.8" r="6"/><circle cx="1432.8" cy="705.7" r="6"/><circle cx="1546.7" cy="707.3" r="6"/><circle cx="1389.3" cy="712.2" r="6"/><circle cx="1413.0" cy="715.7" r="6"/><circle cx="1503.7" cy="715.7" r="6"/><circle cx="1401.5" cy="723.8" r="6"/><circle cx="1444.3" cy="722.2" r="6"/><circle cx="1491.6" cy="723.8" r="6"/><circle cx="1503.7" cy="730.7" r="6"/><circle cx="1499.4" cy="740.7" r="6"/><circle cx="1409.3" cy="740.5" r="6"/><circle cx="1401.5" cy="750.3" r="6"/><circle cx="1452.4" cy="748.8" r="6"/><circle cx="1515.3" cy="755.3" r="6"/><circle cx="1409.3" cy="762.0" r="6"/><circle cx="1440.6" cy="763.9" r="6"/><circle cx="1464.3" cy="768.9" r="6"/><circle cx="1385.5" cy="768.9" r="6"/><circle cx="1531.0" cy="767.2" r="6"/><circle cx="1613.2" cy="782.0" r="6"/><circle cx="1774.4" cy="712.3" r="6"/><circle cx="1346.3" cy="801.9" r="6"/><circle cx="1369.9" cy="805.3" r="6"/><circle cx="1318.8" cy="811.9" r="6"/><circle cx="1310.7" cy="815.3" r="6"/><circle cx="1283.4" cy="815.3" r="6"/><circle cx="1232.5" cy="818.5" r="6"/><circle cx="1366.1" cy="818.5" r="6"/><circle cx="1303.2" cy="850.1" r="6"/><circle cx="1295.3" cy="861.7" r="6"/><circle cx="1315.0" cy="860.1" r="6"/><circle cx="1251.9" cy="873.5" r="6"/><circle cx="1315.0" cy="875.1" r="6"/><circle cx="1311.0" cy="882.0" r="6"/><circle cx="1354.2" cy="875.1" r="6"/><circle cx="1358.0" cy="906.6" r="6"/><circle cx="1377.6" cy="922.6" r="6"/><circle cx="1193.1" cy="929.6" r="6"/><circle cx="1358.0" cy="928.0" r="6"/><circle cx="1397.4" cy="810.3" r="6"/><circle cx="1428.9" cy="808.5" r="6"/><circle cx="1393.4" cy="846.7" r="6"/><circle cx="1436.8" cy="851.7" r="6"/><circle cx="1432.8" cy="871.7" r="6"/><circle cx="1440.8" cy="873.5" r="6"/><circle cx="1397.4" cy="880.1" r="6"/><circle cx="1413.0" cy="878.2" r="6"/><circle cx="1475.8" cy="918.2" r="6"/><circle cx="1640.9" cy="801.9" r="6"/><circle cx="1625.3" cy="909.9" r="6"/>
</g>
<rect x="750.6" y="239" width="174.4" height="64.6" fill="#ffde59" fill-opacity="0.5"/>
<text x="759.4" y="289.0" font-size="47.5" text-anchor="start" textLength="157" lengthAdjust="spacingAndGlyphs" stroke="#000" stroke-width="1.5" stroke-linejoin="round" >C -0,13</text>
<rect x="1665" y="239" width="190" height="64.6" fill="#ffde59" fill-opacity="0.5"/>
<text x="1673.9" y="289.0" font-size="47.5" text-anchor="start" textLength="173.4" lengthAdjust="spacingAndGlyphs" stroke="#000" stroke-width="1.5" stroke-linejoin="round" >C +0,10</text>
</svg></body></html>
